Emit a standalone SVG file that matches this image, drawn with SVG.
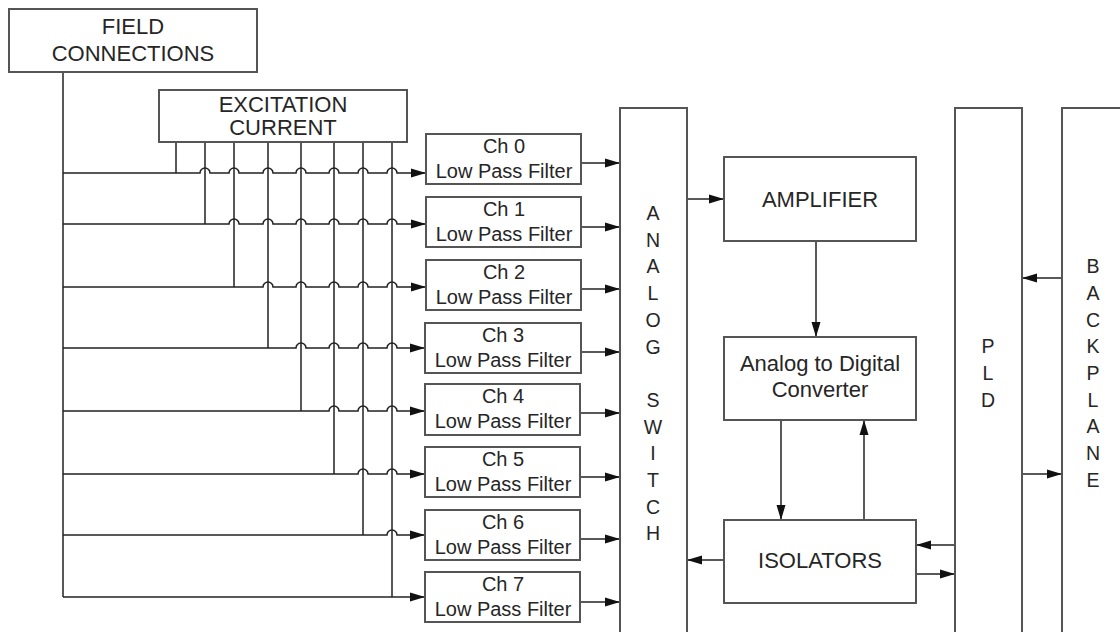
<svg xmlns="http://www.w3.org/2000/svg" width="1120" height="632" viewBox="0 0 1120 632">
<defs>
<marker id="ah" viewBox="0 0 15 10" refX="15" refY="5" markerWidth="15" markerHeight="10" markerUnits="userSpaceOnUse" orient="auto">
<path d="M0,0.5 L15,5 L0,9.5 Z" fill="#111"/>
</marker>
<style>
.box{fill:#fff;stroke:#555;stroke-width:2}
.t{font-family:"Liberation Sans",Arial,sans-serif;font-size:22px;fill:#262626;text-anchor:middle}
.s{font-size:20px}
.v{font-size:19.5px}
.ln{fill:none;stroke:#222;stroke-width:1.5}
.ar{fill:none;stroke:#222;stroke-width:1.5;marker-end:url(#ah)}
</style>
</defs>
<rect width="1120" height="632" fill="#fff"/>

<g id="connectors">
<!-- field vertical -->
<path class="ln" d="M63,72 V597"/>
<!-- excitation verticals -->
<path class="ln" d="M176,142 V173 M205,142 V224 M234,142 V287 M268,142 V348 M301,142 V411 M334,142 V474 M363,142 V535 M392,142 V597"/>
<!-- channel lines with hops -->
<path class="ar" d="M63,173 H200 A5 5 0 0 1 210 173 H229 A5 5 0 0 1 239 173 H263 A5 5 0 0 1 273 173 H296 A5 5 0 0 1 306 173 H329 A5 5 0 0 1 339 173 H358 A5 5 0 0 1 368 173 H387 A5 5 0 0 1 397 173 H426"/>
<path class="ar" d="M63,224 H229 A5 5 0 0 1 239 224 H263 A5 5 0 0 1 273 224 H296 A5 5 0 0 1 306 224 H329 A5 5 0 0 1 339 224 H358 A5 5 0 0 1 368 224 H387 A5 5 0 0 1 397 224 H426"/>
<path class="ar" d="M63,287 H263 A5 5 0 0 1 273 287 H296 A5 5 0 0 1 306 287 H329 A5 5 0 0 1 339 287 H358 A5 5 0 0 1 368 287 H387 A5 5 0 0 1 397 287 H426"/>
<path class="ar" d="M63,348 H296 A5 5 0 0 1 306 348 H329 A5 5 0 0 1 339 348 H358 A5 5 0 0 1 368 348 H387 A5 5 0 0 1 397 348 H425"/>
<path class="ar" d="M63,411 H329 A5 5 0 0 1 339 411 H358 A5 5 0 0 1 368 411 H387 A5 5 0 0 1 397 411 H425"/>
<path class="ar" d="M63,474 H358 A5 5 0 0 1 368 474 H387 A5 5 0 0 1 397 474 H425"/>
<path class="ar" d="M63,535 H387 A5 5 0 0 1 397 535 H425"/>
<path class="ar" d="M63,597 H425"/>
<!-- filter outputs -->
<path class="ar" d="M581,163 H620"/>
<path class="ar" d="M581,227 H620"/>
<path class="ar" d="M581,289 H620"/>
<path class="ar" d="M581,352 H620"/>
<path class="ar" d="M580,413 H620"/>
<path class="ar" d="M580,477 H620"/>
<path class="ar" d="M580,539 H620"/>
<path class="ar" d="M580,602 H620"/>
<!-- switch to amplifier -->
<path class="ar" d="M687,199 H724"/>
<!-- amplifier to adc -->
<path class="ar" d="M816,241 V337"/>
<!-- adc to isolators / isolators to adc -->
<path class="ar" d="M781,420 V520"/>
<path class="ar" d="M864,520 V420"/>
<!-- isolators to switch -->
<path class="ar" d="M724,560 H687"/>
<!-- pld <-> isolators -->
<path class="ar" d="M955,545 H916"/>
<path class="ar" d="M916,574 H955"/>
<!-- backplane <-> pld -->
<path class="ar" d="M1062,278 H1022"/>
<path class="ar" d="M1022,474 H1062"/>
</g>

<g id="field">
<rect class="box" x="9" y="9" width="248" height="63"/>
<text class="t" x="133" y="34">FIELD</text>
<text class="t" x="133" y="61">CONNECTIONS</text>
</g>

<g id="excitation">
<rect class="box" x="159" y="90" width="248" height="52"/>
<text class="t" x="283" y="112">EXCITATION</text>
<text class="t" x="283" y="135">CURRENT</text>
</g>

<g id="ch0"><rect class="box" x="426" y="134" width="155" height="50"/><text class="t s" x="504" y="153">Ch 0</text><text class="t s" x="504" y="178">Low Pass Filter</text></g>
<g id="ch1"><rect class="box" x="426" y="197" width="155" height="50"/><text class="t s" x="504" y="216">Ch 1</text><text class="t s" x="504" y="241">Low Pass Filter</text></g>
<g id="ch2"><rect class="box" x="426" y="260" width="155" height="50"/><text class="t s" x="504" y="279">Ch 2</text><text class="t s" x="504" y="304">Low Pass Filter</text></g>
<g id="ch3"><rect class="box" x="425" y="323" width="156" height="50"/><text class="t s" x="503" y="342">Ch 3</text><text class="t s" x="503" y="367">Low Pass Filter</text></g>
<g id="ch4"><rect class="box" x="425" y="384" width="155" height="51"/><text class="t s" x="503" y="403">Ch 4</text><text class="t s" x="503" y="428">Low Pass Filter</text></g>
<g id="ch5"><rect class="box" x="425" y="447" width="155" height="50"/><text class="t s" x="503" y="466">Ch 5</text><text class="t s" x="503" y="491">Low Pass Filter</text></g>
<g id="ch6"><rect class="box" x="425" y="510" width="155" height="50"/><text class="t s" x="503" y="529">Ch 6</text><text class="t s" x="503" y="554">Low Pass Filter</text></g>
<g id="ch7"><rect class="box" x="425" y="572" width="155" height="50"/><text class="t s" x="503" y="591">Ch 7</text><text class="t s" x="503" y="616">Low Pass Filter</text></g>

<g id="analog-switch">
<rect class="box" x="620" y="108" width="67" height="540"/>
<text class="t v" x="653" y="220">A</text>
<text class="t v" x="653" y="247">N</text>
<text class="t v" x="653" y="273">A</text>
<text class="t v" x="653" y="300">L</text>
<text class="t v" x="653" y="327">O</text>
<text class="t v" x="653" y="354">G</text>
<text class="t v" x="653" y="407">S</text>
<text class="t v" x="653" y="434">W</text>
<text class="t v" x="653" y="460">I</text>
<text class="t v" x="653" y="487">T</text>
<text class="t v" x="653" y="514">C</text>
<text class="t v" x="653" y="540">H</text>
</g>

<g id="amplifier">
<rect class="box" x="724" y="157" width="192" height="84"/>
<text class="t" x="820" y="207">AMPLIFIER</text>
</g>

<g id="adc">
<rect class="box" x="724" y="337" width="192" height="83"/>
<text class="t" x="820" y="371">Analog to Digital</text>
<text class="t" x="820" y="397">Converter</text>
</g>

<g id="isolators">
<rect class="box" x="724" y="520" width="192" height="83"/>
<text class="t" x="820" y="568">ISOLATORS</text>
</g>

<g id="pld">
<rect class="box" x="955" y="108" width="67" height="540"/>
<text class="t v" x="988" y="353">P</text>
<text class="t v" x="988" y="380">L</text>
<text class="t v" x="988" y="407">D</text>
</g>

<g id="backplane">
<rect class="box" x="1062" y="108" width="80" height="540"/>
<text class="t v" x="1093" y="273">B</text>
<text class="t v" x="1093" y="300">A</text>
<text class="t v" x="1093" y="327">C</text>
<text class="t v" x="1093" y="353">K</text>
<text class="t v" x="1093" y="380">P</text>
<text class="t v" x="1093" y="407">L</text>
<text class="t v" x="1093" y="433">A</text>
<text class="t v" x="1093" y="460">N</text>
<text class="t v" x="1093" y="487">E</text>
</g>
</svg>
